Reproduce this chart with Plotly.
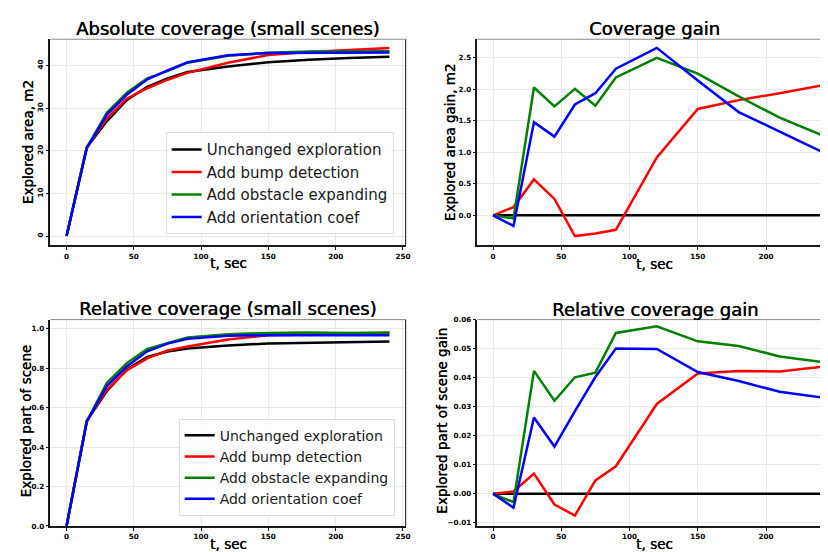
import plotly.graph_objects as go

t = [0, 15, 30, 45, 60, 75, 90, 120, 150, 180, 210, 240]
names = ["Unchanged exploration", "Add bump detection", "Add obstacle expanding", "Add orientation coef"]
colors = ["#000000", "#ff0000", "#008000", "#0000ff"]

abs_unchanged = [0, 20.8, 27.0, 32.0, 35.0, 37.0, 38.5, 39.8, 40.8, 41.4, 41.8, 42.1]
abs_bump = [0, 20.9, 27.6, 32.3, 34.7, 36.7, 38.3, 40.7, 42.5, 43.2, 43.7, 44.15]
abs_obstacle = [0, 20.75, 29.0, 33.7, 37.0, 38.7, 40.7, 42.3, 43.05, 43.3, 43.35, 43.4]
abs_orient = [0, 20.6, 28.5, 33.25, 36.8, 38.9, 40.8, 42.45, 42.95, 43.05, 43.1, 43.1]

gain_unchanged = [0] * 12
gain_bump = [0, 0.13, 0.57, 0.26, -0.33, -0.29, -0.23, 0.92, 1.69, 1.83, 1.94, 2.06]
gain_obstacle = [0, -0.05, 2.03, 1.73, 2.01, 1.74, 2.19, 2.50, 2.25, 1.89, 1.55, 1.28]
gain_orient = [0, -0.17, 1.48, 1.25, 1.76, 1.94, 2.33, 2.66, 2.14, 1.64, 1.33, 1.02]

rel_unchanged = [0, 0.533, 0.685, 0.795, 0.858, 0.885, 0.900, 0.915, 0.926, 0.930, 0.932, 0.936]
rel_bump = [0, 0.534, 0.692, 0.791, 0.850, 0.890, 0.910, 0.946, 0.968, 0.972, 0.974, 0.979]
rel_obstacle = [0, 0.530, 0.727, 0.827, 0.898, 0.927, 0.956, 0.973, 0.979, 0.981, 0.979, 0.981]
rel_orient = [0, 0.528, 0.711, 0.811, 0.886, 0.925, 0.950, 0.965, 0.968, 0.969, 0.967, 0.968]

rgain_unchanged = [0] * 12
rgain_bump = [0, 0.0008, 0.0070, -0.0037, -0.0075, 0.0046, 0.0095, 0.0310, 0.0415, 0.0424, 0.0422, 0.0438]
rgain_obstacle = [0, -0.0029, 0.0424, 0.0321, 0.0402, 0.0418, 0.0555, 0.0578, 0.0526, 0.0510, 0.0474, 0.0455]
rgain_orient = [0, -0.0048, 0.0263, 0.0163, 0.0285, 0.0403, 0.0501, 0.0500, 0.0420, 0.0389, 0.0352, 0.0333]

titles = ["Absolute coverage (small scenes)", "Coverage gain",
          "Relative coverage (small scenes)", "Relative coverage gain"]
ylabels = ["Explored area, m2", "Explored area gain, m2",
           "Explored part of scene", "Explored part of scene gain"]
xlabel = "t, sec"

W, H = 828, 552
def px(x):
    return x / W
def py(y):
    return 1 - y / H

SHADOW = "0.5px 0px 0px #000000"

fig = go.Figure()

panels = [
    dict(series=[abs_unchanged, abs_bump, abs_obstacle, abs_orient], legend="legend"),
    dict(series=[gain_unchanged, gain_bump, gain_obstacle, gain_orient], legend=None),
    dict(series=[rel_unchanged, rel_bump, rel_obstacle, rel_orient], legend="legend2"),
    dict(series=[rgain_unchanged, rgain_bump, rgain_obstacle, rgain_orient], legend=None),
]

for i, p in enumerate(panels):
    ax = "" if i == 0 else str(i + 1)
    for name, col, ys in zip(names, colors, p["series"]):
        fig.add_trace(go.Scatter(
            x=t, y=ys, mode="lines", name=name,
            line=dict(color=col, width=2.5),
            xaxis="x" + ax, yaxis="y" + ax,
            showlegend=p["legend"] is not None,
            legend=p["legend"] if p["legend"] else "legend",
        ))

LX = [px(42.7), px(400)]
RX = [px(472.3), 1.0]
TY = [py(237.3), py(27.7)]
BY = [py(522.5), py(312.7)]

tickfont = dict(family="DejaVu Sans", size=7.2, color="#000000", weight="bold")
common_x = dict(showgrid=True, gridcolor="#e8e8e8", gridwidth=1, zeroline=False,
                showline=True, linecolor="#1a1a1a", linewidth=1.5,
                ticks="outside", ticklen=3, tickcolor="#1a1a1a",
                tickvals=[0, 50, 100, 150, 200, 250], tickfont=tickfont)
common_y = dict(showgrid=True, gridcolor="#e8e8e8", gridwidth=1, zeroline=False,
                showline=True, linecolor="#1a1a1a", linewidth=1.5,
                ticks="outside", ticklen=3, tickcolor="#1a1a1a", tickfont=tickfont)

legend_font = dict(family="DejaVu Sans", color="#1a1a1a")

fig.update_layout(
    width=W, height=H,
    margin=dict(l=0, r=0, t=0, b=0),
    paper_bgcolor="white", plot_bgcolor="white",
    font=dict(family="DejaVu Sans", color="#000000"),
    xaxis=dict(common_x, domain=LX, range=[-12, 252], anchor="y"),
    yaxis=dict(common_y, domain=TY, range=[-2.2, 46.2], anchor="x",
               tickvals=[0, 10, 20, 30, 40], tickangle=-90),
    xaxis2=dict(common_x, domain=RX, range=[-11.4, 247.6], anchor="y2"),
    yaxis2=dict(common_y, domain=TY, range=[-0.479, 2.797], anchor="x2",
                tickvals=[0, 0.5, 1.0, 1.5, 2.0, 2.5], tickformat=".1f"),
    xaxis3=dict(common_x, domain=LX, range=[-12, 252], anchor="y3"),
    yaxis3=dict(common_y, domain=BY, range=[0, 1.047], anchor="x3",
                tickvals=[0, 0.2, 0.4, 0.6, 0.8, 1.0], tickformat=".1f"),
    xaxis4=dict(common_x, domain=RX, range=[-11.4, 247.6], anchor="y4"),
    yaxis4=dict(common_y, domain=BY, range=[-0.0111, 0.0601], anchor="x4",
                tickvals=[-0.01, 0, 0.01, 0.02, 0.03, 0.04, 0.05, 0.06], tickformat=".2f"),
    legend=dict(x=px(388), y=py(226), xanchor="right", yanchor="bottom",
                bgcolor="rgba(255,255,255,0.85)", bordercolor="#dddddd", borderwidth=1,
                font=dict(legend_font, size=15), tracegroupgap=0),
    legend2=dict(x=px(389), y=py(512), xanchor="right", yanchor="bottom",
                 bgcolor="rgba(255,255,255,0.85)", bordercolor="#dddddd", borderwidth=1,
                 font=dict(legend_font, size=14), tracegroupgap=0),
)

for i in range(4):
    ax = "" if i == 0 else str(i + 1)
    fig.add_shape(type="line", xref="x" + ax + " domain", yref="y" + ax + " domain",
                  x0=0, x1=1, y0=1, y1=1, line=dict(color="#888888", width=1))
    if i in (0, 2):
        fig.add_shape(type="line", xref="x" + ax + " domain", yref="y" + ax + " domain",
                      x0=1, x1=1, y0=0, y1=1, line=dict(color="#333333", width=1.2))

title_pos = [(221.4, 17), (650.7, 17), (221.4, 301), (650.7, 302)]
xlab_pos = [(221.4, 255), (650.7, 256), (221.4, 541), (650.7, 541)]
ylab_pos = [(20, 132.5), (445.5, 132.5), (18.3, 416), (437.3, 416)]
for i in range(4):
    fig.add_annotation(text=titles[i], x=px(title_pos[i][0]), y=py(title_pos[i][1]),
                       xref="paper", yref="paper", showarrow=False,
                       xanchor="center", yanchor="middle",
                       font=dict(family="DejaVu Sans", size=18, color="#000000", shadow=SHADOW))
    fig.add_annotation(text=xlabel, x=px(xlab_pos[i][0]), y=py(xlab_pos[i][1]),
                       xref="paper", yref="paper", showarrow=False,
                       xanchor="center", yanchor="middle",
                       font=dict(family="DejaVu Sans", size=13.5, color="#000000", shadow=SHADOW))
    fig.add_annotation(text=ylabels[i], x=px(ylab_pos[i][0]), y=py(ylab_pos[i][1]),
                       xref="paper", yref="paper", showarrow=False, textangle=-90,
                       xanchor="center", yanchor="middle",
                       font=dict(family="DejaVu Sans", size=13.5, color="#000000", shadow=SHADOW))

fig.write_html("out.html")
